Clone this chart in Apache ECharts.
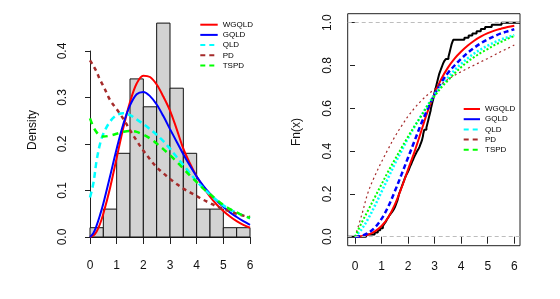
<!DOCTYPE html>
<html><head><meta charset="utf-8">
<script src="https://cdn.jsdelivr.net/npm/echarts@6/dist/echarts.min.js"></script>
<style>html,body{margin:0;padding:0;background:#fff}#c{width:560px;height:299px}</style>
</head><body><div id="c"></div><script>
// ---------- data ----------
const seriesNames = ['WGQLD', 'GQLD', 'QLD', 'PD', 'TSPD'];
const seriesColors = ['#ff0000', '#0000ff', '#00ffff', '#a52a2a', '#00ff00'];

// histogram (bin edges, density per bin)
const binStart = [0, 0.5, 1, 1.5, 2, 2.5, 3, 3.5, 4, 4.5, 5, 5.5];
const binEnd   = [0.5, 1, 1.5, 2, 2.5, 3, 3.5, 4, 4.5, 5, 5.5, 6];
const binDensity = [0.02, 0.06, 0.18, 0.34, 0.28, 0.46, 0.32, 0.18, 0.06, 0.06, 0.02, 0.02];

// fitted densities
const pdfX = [0, 0.125, 0.25, 0.375, 0.5, 0.75, 1, 1.25, 1.5, 1.75, 2, 2.25, 2.5, 2.75, 3, 3.25, 3.5, 3.75, 4, 4.25, 4.5, 4.75, 5, 5.25, 5.5, 5.75, 6];
const pdfWGQLD = [0, 0.003, 0.012, 0.028, 0.05, 0.105, 0.17, 0.235, 0.29, 0.33, 0.347, 0.344, 0.328, 0.302, 0.272, 0.232, 0.19, 0.158, 0.13, 0.107, 0.087, 0.07, 0.056, 0.044, 0.034, 0.026, 0.02];
const pdfGQLD  = [0, 0.008, 0.025, 0.047, 0.072, 0.13, 0.19, 0.243, 0.283, 0.307, 0.312, 0.303, 0.285, 0.26, 0.232, 0.205, 0.178, 0.153, 0.13, 0.11, 0.093, 0.078, 0.065, 0.053, 0.043, 0.034, 0.026];
const pdfQLD   = [0.085, 0.115, 0.165, 0.2, 0.222, 0.248, 0.262, 0.266, 0.262, 0.253, 0.243, 0.232, 0.22, 0.206, 0.19, 0.172, 0.155, 0.137, 0.12, 0.105, 0.091, 0.079, 0.068, 0.059, 0.052, 0.046, 0.04];
const pdfPD    = [0.38, 0.368, 0.355, 0.338, 0.325, 0.295, 0.275, 0.254, 0.23, 0.207, 0.186, 0.167, 0.15, 0.137, 0.125, 0.114, 0.104, 0.096, 0.088, 0.08, 0.073, 0.066, 0.06, 0.055, 0.05, 0.046, 0.043];
const pdfTSPD  = [0.255, 0.237, 0.225, 0.218, 0.216, 0.218, 0.222, 0.226, 0.228, 0.226, 0.22, 0.212, 0.201, 0.189, 0.176, 0.162, 0.147, 0.132, 0.118, 0.104, 0.092, 0.08, 0.069, 0.06, 0.053, 0.046, 0.041];

// fitted CDFs
const cdfX = [0, 0.25, 0.5, 0.75, 1, 1.25, 1.5, 1.75, 2, 2.25, 2.5, 2.75, 3, 3.25, 3.5, 3.75, 4, 4.25, 4.5, 4.75, 5, 5.25, 5.5, 5.75, 6];
const cdfWGQLD = [0, 0.002, 0.01, 0.025, 0.05, 0.09, 0.15, 0.228, 0.315, 0.40, 0.495, 0.59, 0.67, 0.737, 0.79, 0.832, 0.865, 0.893, 0.917, 0.936, 0.951, 0.963, 0.972, 0.98, 0.986];
const cdfGQLD  = [0, 0.004, 0.018, 0.043, 0.083, 0.14, 0.212, 0.29, 0.37, 0.45, 0.53, 0.6, 0.665, 0.72, 0.765, 0.80, 0.832, 0.86, 0.884, 0.905, 0.922, 0.937, 0.95, 0.96, 0.969];
const cdfQLD   = [0, 0.035, 0.085, 0.145, 0.21, 0.275, 0.34, 0.4, 0.46, 0.515, 0.567, 0.617, 0.665, 0.705, 0.742, 0.778, 0.808, 0.834, 0.857, 0.876, 0.893, 0.908, 0.921, 0.932, 0.942];
const cdfPD    = [0, 0.1, 0.21, 0.285, 0.35, 0.41, 0.467, 0.517, 0.563, 0.602, 0.636, 0.665, 0.69, 0.713, 0.735, 0.754, 0.771, 0.787, 0.802, 0.818, 0.833, 0.849, 0.865, 0.88, 0.896];
const cdfTSPD  = [0, 0.065, 0.125, 0.185, 0.245, 0.305, 0.36, 0.415, 0.468, 0.518, 0.565, 0.615, 0.657, 0.697, 0.73, 0.763, 0.792, 0.818, 0.84, 0.86, 0.877, 0.895, 0.91, 0.925, 0.938];

// observed sample (sorted) for the empirical CDF
const sample = [
  0.42,
  0.74, 0.86, 0.95,
  1.05, 1.10, 1.16, 1.20, 1.25, 1.30, 1.36, 1.42, 1.47,
  1.51, 1.54, 1.57, 1.60, 1.62, 1.64, 1.66, 1.69, 1.72, 1.75, 1.78, 1.81, 1.84, 1.87, 1.90, 1.94, 1.98,
  2.02, 2.05, 2.08, 2.12, 2.15, 2.19, 2.22, 2.26, 2.30, 2.34, 2.39, 2.43, 2.46, 2.49,
  2.52, 2.54, 2.56, 2.57, 2.59, 2.61, 2.69, 2.71, 2.73, 2.75, 2.77, 2.79, 2.81, 2.83, 2.85, 2.86, 2.88, 2.90, 2.92, 2.94, 2.96, 2.97, 2.99,
  3.01, 3.03, 3.05, 3.07, 3.09, 3.11, 3.13, 3.15, 3.17, 3.20, 3.23, 3.26, 3.29, 3.32, 3.36, 3.42,
  3.52, 3.54, 3.56, 3.58, 3.60, 3.62, 3.64, 3.67, 3.70,
  4.12, 4.28, 4.42,
  4.58, 4.74, 4.90,
  5.15,
  5.52
];

// axes
const xTicks = [0, 1, 2, 3, 4, 5, 6];
const yTicksLeft = [0, 0.1, 0.2, 0.3, 0.4];
const yTicksRight = [0, 0.2, 0.4, 0.6, 0.8, 1.0];
const rightXRange = [-0.275, 6.215];
const rightYRange = [-0.042, 1.042];
const refLines = [0, 1];

// ---------- chart ----------
const FONT = "'Liberation Sans', Arial, sans-serif";
const chart = echarts.init(document.getElementById('c'), null, {renderer: 'canvas'});

const pdfData = [pdfWGQLD, pdfGQLD, pdfQLD, pdfPD, pdfTSPD];
const cdfData = [cdfWGQLD, cdfGQLD, cdfQLD, cdfPD, cdfTSPD];
const pdfStyles = [
  {width: 2, type: 'solid'},
  {width: 2, type: 'solid'},
  {width: 2.5, type: [6, 4]},
  {width: 2.5, type: [4, 4]},
  {width: 2.5, type: [6, 5]}
];
const cdfStyles = [
  {width: 2, type: 'solid'},
  {width: 2.5, type: [5, 3]},
  {width: 2.5, type: [2, 2]},
  {width: 1.2, type: [2, 3]},
  {width: 2, type: [2, 2]}
];

const series = [];
series.push({
  type: 'custom', xAxisIndex: 0, yAxisIndex: 0, clip: false,
  data: binStart.map((s, i) => [s, binEnd[i], binDensity[i]]),
  encode: {x: [0, 1], y: 2},
  renderItem: function (params, api) {
    const p0 = api.coord([api.value(0), api.value(2)]);
    const p1 = api.coord([api.value(1), 0]);
    return {type: 'rect', shape: {x: p0[0], y: p0[1], width: p1[0] - p0[0], height: p1[1] - p0[1]},
      style: {fill: '#d3d3d3', stroke: '#111', lineWidth: 1}};
  },
  silent: true
});
seriesNames.forEach((n, k) => {
  series.push({
    name: n, type: 'line', xAxisIndex: 0, yAxisIndex: 0, clip: false,
    symbol: 'none', smooth: 0.35,
    data: pdfX.map((x, i) => [x, pdfData[k][i]]),
    lineStyle: {color: seriesColors[k], width: pdfStyles[k].width, type: pdfStyles[k].type},
    itemStyle: {color: seriesColors[k]}
  });
});
// empirical CDF
const n = sample.length;
const ecdf = [[rightXRange[0], 0]].concat(sample.map((v, i) => [v, (i + 1) / n])).concat([[rightXRange[1], 1]]);
series.push({
  type: 'line', xAxisIndex: 1, yAxisIndex: 1, step: 'end', symbol: 'none',
  data: ecdf, lineStyle: {color: '#000', width: 2}, z: 1,
  markLine: {symbol: 'none', silent: true, label: {show: false},
    lineStyle: {color: '#bdbdbd', type: [4, 3], width: 1},
    data: refLines.map(v => ({yAxis: v}))}
});
seriesNames.forEach((n2, k) => {
  series.push({
    name: n2, type: 'line', xAxisIndex: 1, yAxisIndex: 1,
    symbol: 'none', smooth: 0.35,
    data: cdfX.map((x, i) => [x, cdfData[k][i]]),
    lineStyle: {color: seriesColors[k], width: cdfStyles[k].width, type: cdfStyles[k].type},
    itemStyle: {color: seriesColors[k]}, z: 3
  });
});

const legendData = seriesNames.map((nm, k) => ({
  name: nm,
  itemStyle: {opacity: 0, color: 'transparent', borderWidth: 0},
  lineStyle: {color: seriesColors[k], width: 2, type: k < 2 ? 'solid' : [5, 4], opacity: 1}
}));
const legendBase = {
  data: legendData, orient: 'vertical', padding: 0, itemGap: 2.2, itemHeight: 8,
  selectedMode: false,
  textStyle: {fontSize: 8, fontFamily: FONT, color: '#000', lineHeight: 8}
};

const option = {
  animation: false,
  backgroundColor: '#fff',
  textStyle: {fontFamily: FONT},
  grid: [
    {left: 90, top: 51, width: 160, height: 186},
    {left: 347.7, top: 13.7, width: 172.3, height: 232, show: true, borderColor: '#222', borderWidth: 1, backgroundColor: 'transparent'}
  ],
  xAxis: [
    {type: 'value', gridIndex: 0, min: 0, max: 6, interval: 1, offset: 8,
      axisLine: {show: true, lineStyle: {color: '#222', width: 1}},
      axisTick: {show: true, length: 7, lineStyle: {color: '#222'}},
      axisLabel: {margin: 15, fontSize: 12, color: '#111', fontFamily: FONT},
      splitLine: {show: false}},
    {type: 'value', gridIndex: 1, min: rightXRange[0], max: rightXRange[1],
      axisLine: {show: false},
      axisTick: {show: true, length: 7, customValues: xTicks, lineStyle: {color: '#222'}},
      axisLabel: {margin: 15, fontSize: 12, color: '#111', fontFamily: FONT, customValues: xTicks},
      splitLine: {show: false}}
  ],
  yAxis: [
    {type: 'value', gridIndex: 0, min: 0, max: 0.4, interval: 0.1, offset: 9,
      axisLine: {show: true, lineStyle: {color: '#222', width: 1}},
      axisTick: {show: true, length: 5, lineStyle: {color: '#222'}},
      axisLabel: {margin: 12, fontSize: 12, color: '#111', fontFamily: FONT, rotate: 90,
        formatter: v => v.toFixed(1)},
      splitLine: {show: false}},
    {type: 'value', gridIndex: 1, min: rightYRange[0], max: rightYRange[1],
      axisLine: {show: false},
      axisTick: {show: true, length: 5, customValues: yTicksRight, lineStyle: {color: '#222'}},
      axisLabel: {margin: 14, fontSize: 12, color: '#111', fontFamily: FONT, rotate: 90,
        customValues: yTicksRight, formatter: v => Number(v).toFixed(1)},
      splitLine: {show: false}}
  ],
  legend: [
    Object.assign({}, legendBase, {left: 199.3, top: 20.7, itemWidth: 17.4}),
    Object.assign({}, legendBase, {left: 462.7, top: 105, itemWidth: 16.3})
  ],
  graphic: [
    {type: 'text', x: 33, y: 130, rotation: Math.PI / 2,
      style: {text: 'Density', fontSize: 12, fontFamily: FONT, fill: '#111', align: 'center', verticalAlign: 'middle'}},
    {type: 'text', x: 297, y: 132, rotation: Math.PI / 2,
      style: {text: 'Fn(x)', fontSize: 12, fontFamily: FONT, fill: '#111', align: 'center', verticalAlign: 'middle'}}
  ],
  series: series
};
chart.setOption(option);
</script></body></html>
